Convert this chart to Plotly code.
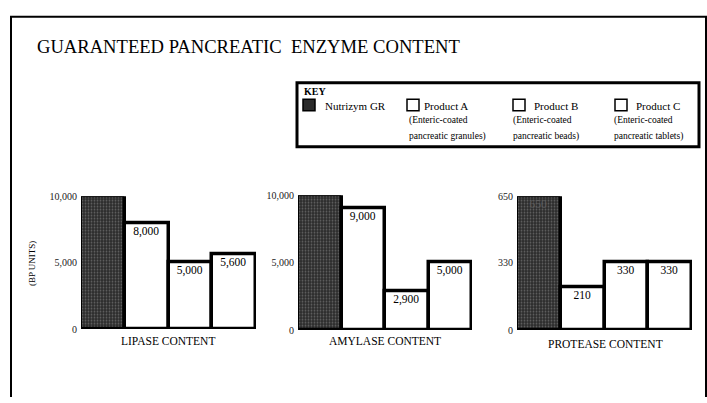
import plotly.graph_objects as go

W, H = 707, 403

products = ["Nutrizym GR", "Product A", "Product B", "Product C"]
product_notes = [[], ["(Enteric-coated", "pancreatic granules)"],
                 ["(Enteric-coated", "pancreatic beads)"],
                 ["(Enteric-coated", "pancreatic tablets)"]]
panels = ["LIPASE CONTENT", "AMYLASE CONTENT", "PROTEASE CONTENT"]
lipase = [10000, 8000, 5000, 5600]
amylase = [10000, 9000, 2900, 5000]
protease = [650, 210, 330, 330]
lipase_labels = ["", "8,000", "5,000", "5,600"]
amylase_labels = ["", "9,000", "2,900", "5,000"]
protease_labels = ["650", "210", "330", "330"]
lipase_ticks = [0, 5000, 10000]
amylase_ticks = [0, 5000, 10000]
protease_ticks = [0, 330, 650]
lipase_ticktext = ["0", "5,000", "10,000"]
amylase_ticktext = ["0", "5,000", "10,000"]
protease_ticktext = ["0", "330", "650"]

FONT = "Liberation Serif"
DARK = "#2b2b2b"

def px(x):
    return x / W

def py(y):
    return 1 - y / H

fig = go.Figure()

series = [lipase, amylase, protease]
labels = [lipase_labels, amylase_labels, protease_labels]
ticks = [lipase_ticks, amylase_ticks, protease_ticks]
ticktexts = [lipase_ticktext, amylase_ticktext, protease_ticktext]
ymax = [10000, 10000, 650]
xdom = [(81, 256), (298, 472), (517, 692)]
ydom = [(333, 196), (334, 195), (334, 196)]

dark_pattern = dict(shape=".", bgcolor=DARK, fgcolor="#9a9a9a",
                    size=3, solidity=0.3, fillmode="overlay")

for p in range(3):
    xa = "x" if p == 0 else f"x{p+1}"
    ya = "y" if p == 0 else f"y{p+1}"
    for i, prod in enumerate(products):
        dark = i == 0
        marker = dict(color=DARK if dark else "white",
                      line=dict(color="black", width=3.5))
        if dark:
            marker["pattern"] = dark_pattern
        fig.add_trace(go.Bar(
            x=[prod], y=[series[p][i]], name=prod, showlegend=False,
            marker=marker, width=1,
            text=[labels[p][i]], textposition="inside", insidetextanchor="end",
            textangle=0, constraintext="none",
            textfont=dict(family=FONT, size=11.5, color="#5a5a5a" if dark else "black"),
            xaxis=xa, yaxis=ya, hoverinfo="skip",
        ))

layout = dict(
    width=W, height=H,
    margin=dict(l=0, r=0, t=0, b=0),
    paper_bgcolor="white", plot_bgcolor="white",
    barmode="overlay", bargap=0, showlegend=False,
    font=dict(family=FONT, color="black"),
)
for p in range(3):
    sx = "" if p == 0 else str(p + 1)
    layout[f"xaxis{sx}"] = dict(
        domain=[px(xdom[p][0]), px(xdom[p][1])], anchor=f"y{sx}",
        showticklabels=False, showgrid=False, zeroline=False, showline=False,
        range=[-0.5, 3.5], fixedrange=True,
    )
    layout[f"yaxis{sx}"] = dict(
        domain=[py(ydom[p][0]), py(ydom[p][1])], anchor=f"x{sx}",
        range=[0, ymax[p]], tickvals=ticks[p], ticktext=ticktexts[p],
        showgrid=False, zeroline=False, showline=False, ticks="",
        tickfont=dict(size=10, family=FONT, color="#222"), ticklabelstandoff=3,
    )
fig.update_layout(**layout)

ann = [
    dict(text="GUARANTEED PANCREATIC  ENZYME CONTENT", x=px(35), y=py(42),
         xanchor="left", yanchor="middle", font=dict(size=18.6, family=FONT)),
    dict(text="(BP UNITS)", x=px(32), y=py(266), textangle=-90,
         xanchor="center", yanchor="middle", font=dict(size=9, family=FONT)),
]
centers = [(168, 345), (385, 345), (605, 348)]
for p in range(3):
    ann.append(dict(text=panels[p], x=px(centers[p][0]), y=py(centers[p][1]),
                    xanchor="center", yanchor="middle", font=dict(size=11.5, family=FONT)))

# key box
ann.append(dict(text="<b>KEY</b>", x=px(302), y=py(88), xanchor="left", yanchor="middle",
                font=dict(size=10, family=FONT)))
sym_x = [303, 407, 513, 615]
txt_x = [323, 422, 532, 634]
note_x = [0, 407, 511, 612]
note_y = [118, 135]
shapes = []
for i, prod in enumerate(products):
    ann.append(dict(text=prod, x=px(txt_x[i]), y=py(103), xanchor="left", yanchor="middle",
                    font=dict(size=11, family=FONT)))
    for j, line in enumerate(product_notes[i]):
        ann.append(dict(text=line, x=px(note_x[i]), y=py(note_y[j]), xanchor="left",
                        yanchor="middle", font=dict(size=9.5, family=FONT)))
    shapes.append(dict(type="rect", xref="paper", yref="paper",
                       x0=px(sym_x[i]), x1=px(sym_x[i] + 12), y0=py(108), y1=py(96),
                       fillcolor=DARK if i == 0 else "white",
                       line=dict(color="black", width=1.5)))
for a in ann:
    a.update(xref="paper", yref="paper", showarrow=False)

shapes.insert(0, dict(type="rect", xref="paper", yref="paper",
                      x0=px(297), x1=px(699), y0=py(145), y1=py(79),
                      line=dict(color="black", width=3), fillcolor="white", layer="below"))
shapes.append(dict(type="path", xref="paper", yref="paper",
                   path=f"M {px(11)} {py(403)} L {px(11)} {py(11)} L {px(706)} {py(11)} L {px(706)} {py(403)}",
                   line=dict(color="black", width=2)))
fig.update_layout(annotations=ann, shapes=shapes)

fig.write_html("out.html", config={"displayModeBar": False},
               post_script="document.body.style.margin='0';document.body.style.padding='0';")
